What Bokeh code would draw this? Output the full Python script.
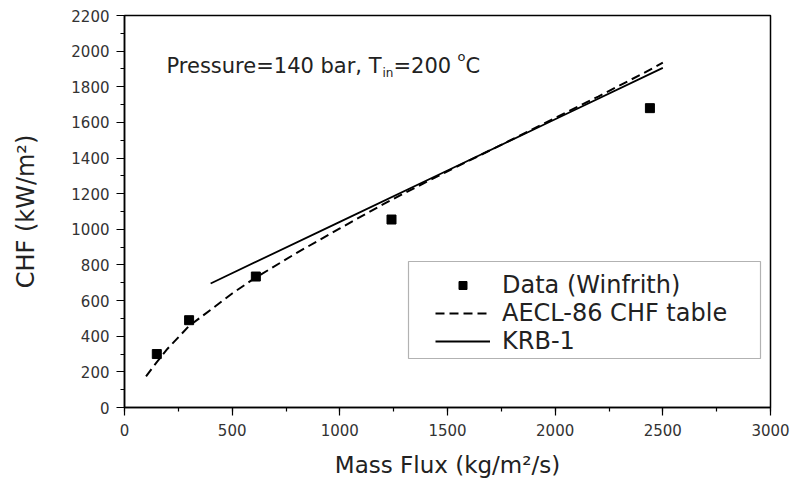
from bokeh.plotting import figure
from bokeh.models import (Range1d, SingleIntervalTicker, Legend, LegendItem,
                          Label, BoxAnnotation)
from bokeh.embed import file_html
from bokeh.resources import INLINE

# ---- data ----
data_flux = [150, 300, 610, 1240, 2440]
data_chf = [300, 490, 735, 1055, 1680]

aecl_flux = [100, 150, 200, 300, 400, 500, 600, 800, 1000, 1200, 1400, 1600,
             1800, 2000, 2200, 2400, 2500]
aecl_chf = [175, 255, 330, 458, 548, 640, 722, 868, 1005, 1140, 1265, 1385,
            1505, 1625, 1745, 1870, 1935]

krb_flux = [400, 1000, 1500, 2000, 2500]
krb_chf = [696, 1042, 1330, 1618, 1906]

FONT = "DejaVu Sans"
TXT = "#222222"

p = figure(width=798, height=483, output_backend="svg", toolbar_location=None,
           x_range=Range1d(0, 3000), y_range=Range1d(0, 2200),
           min_border_left=124, min_border_right=28, min_border_top=15,
           min_border_bottom=76)

p.xgrid.visible = False
p.ygrid.visible = False
p.outline_line_color = "black"
p.outline_line_width = 1.5
p.background_fill_color = "white"
p.border_fill_color = "white"

p.xaxis.ticker = SingleIntervalTicker(interval=500, num_minor_ticks=2)
p.yaxis.ticker = SingleIntervalTicker(interval=200, num_minor_ticks=2)

for ax in (p.xaxis[0], p.yaxis[0]):
    ax.axis_line_color = "black"
    ax.axis_line_width = 1.5
    ax.major_tick_line_color = "black"
    ax.minor_tick_line_color = "black"
    ax.major_tick_line_width = 1.2
    ax.minor_tick_line_width = 1.2
    ax.major_tick_in = 0
    ax.minor_tick_in = 0
    ax.major_tick_out = 8
    ax.minor_tick_out = 4
    ax.major_label_text_font = FONT
    ax.major_label_text_font_size = "15px"
    ax.major_label_text_color = "#333333"
    ax.axis_label_text_font = FONT
    ax.axis_label_text_font_size = "23px"
    ax.axis_label_text_font_style = "normal"
    ax.axis_label_text_color = TXT

p.yaxis.axis_label_text_font_size = "24px"
p.xaxis.axis_label = "Mass Flux (kg/m²/s)"
p.yaxis.axis_label = "CHF (kW/m²)"
p.xaxis.major_label_standoff = 8
p.yaxis.major_label_standoff = 7
p.xaxis.axis_label_standoff = 13
p.yaxis.axis_label_standoff = 28

r_data = p.scatter(data_flux, data_chf, marker="square", size=9,
                   fill_color="black", line_color="black")
r_aecl = p.line(aecl_flux, aecl_chf, line_color="black", line_width=2,
                line_dash="9 5")
r_krb = p.line(krb_flux, krb_chf, line_color="black", line_width=1.8)

# legend frame
box = BoxAnnotation(left=284, right=636, bottom=49, top=146,
                    left_units="screen", right_units="screen",
                    bottom_units="screen", top_units="screen",
                    fill_alpha=0, line_color="black", line_width=1.2)
p.add_layout(box)

legend = Legend(items=[
    LegendItem(label="Data (Winfrith)", renderers=[r_data]),
    LegendItem(label="AECL-86 CHF table", renderers=[r_aecl]),
    LegendItem(label="KRB-1", renderers=[r_krb]),
], location=(306, 47))
legend.padding = 5
legend.spacing = 0
legend.glyph_width = 55
legend.glyph_height = 20
legend.label_standoff = 12
legend.label_text_font = FONT
legend.label_text_font_size = "24px"
legend.label_text_color = TXT
legend.border_line_alpha = 0
legend.background_fill_alpha = 0
p.add_layout(legend)

# annotation: Pressure=140 bar, T_in=200 °C
def lab(x, y, text, size):
    p.add_layout(Label(x=x, y=y, x_units="screen", y_units="screen", text=text,
                       text_font=FONT, text_font_size=size, text_color=TXT,
                       text_baseline="alphabetic", text_align="left"))

lab(42, 342, "Pressure=140 bar, T", "21px")
lab(258, 335, "in", "12px")
lab(269, 342, "=200 ", "21px")
lab(333, 351, "o", "13px")
lab(341, 342, "C", "21px")

open("out.html", "w").write(file_html(p, INLINE))
